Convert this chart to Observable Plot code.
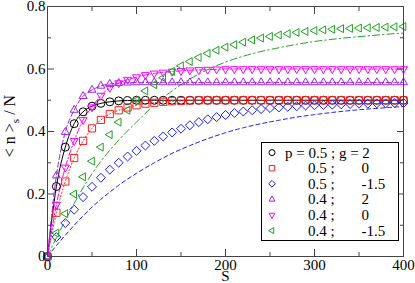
<!DOCTYPE html>
<html><head><meta charset="utf-8">
<script src="https://cdn.jsdelivr.net/npm/d3@7"></script>
<script src="https://cdn.jsdelivr.net/npm/@observablehq/plot@0.6"></script>
<style>body{margin:0;background:#fff} svg{display:block}</style>
</head><body><div id="chart"></div>
<script>
// ---- data ----
const sMarks = [0,10,20,30,40,50,60,70,80,90,100,110,120,130,140,150,160,170,180,190,200,210,220,230,240,250,260,270,280,290,300,310,320,330,340,350,360,370,380,390,400];
const circleV = [0,0.224,0.35,0.425,0.463,0.481,0.49,0.495,0.498,0.499,
  0.5,0.5,0.5,0.5,0.5,0.5,0.5,0.5,0.5,0.5,
  0.5,0.5,0.5,0.5,0.5,0.5,0.5,0.5,0.5,0.5,
  0.5,0.5,0.5,0.5,0.5,0.5,0.5,0.5,0.5,0.5,0.5];
const squareV = [0,0.14,0.24,0.315,0.37,0.41,0.437,0.456,0.468,0.477,
  0.484,0.489,0.492,0.495,0.497,0.498,0.499,0.5,0.5,0.5,
  0.5,0.5,0.5,0.5,0.5,0.5,0.5,0.5,0.5,0.5,
  0.5,0.5,0.5,0.5,0.5,0.5,0.5,0.5,0.5,0.5,0.5];
const diamondV = [0,0.062,0.107,0.15,0.19,0.223,0.252,0.278,0.3,0.32,
  0.338,0.355,0.37,0.384,0.397,0.409,0.42,0.43,0.439,0.446,
  0.453,0.459,0.464,0.468,0.472,0.475,0.477,0.479,0.481,0.483,
  0.484,0.485,0.486,0.487,0.488,0.489,0.489,0.49,0.49,0.491,0.491];
const upV = [0,0.259,0.398,0.469,0.513,0.533,0.546,0.552,0.555,0.556,
  0.557,0.557,0.557,0.557,0.557,0.557,0.557,0.557,0.557,0.557,
  0.557,0.557,0.557,0.557,0.557,0.557,0.557,0.557,0.557,0.557,
  0.557,0.557,0.557,0.557,0.557,0.557,0.557,0.557,0.557,0.557,0.557];
const downV = [0,0.166,0.285,0.37,0.437,0.478,0.515,0.54,0.555,0.566,
  0.574,0.581,0.586,0.589,0.592,0.594,0.596,0.597,0.598,0.599,
  0.6,0.6,0.6,0.6,0.6,0.6,0.6,0.6,0.6,0.6,
  0.6,0.6,0.6,0.6,0.6,0.6,0.6,0.6,0.6,0.6,0.6];
const leftV = [0,0.075,0.137,0.2,0.255,0.305,0.35,0.39,0.43,0.468,
  0.5,0.53,0.55,0.572,0.592,0.61,0.624,0.637,0.65,0.66,
  0.67,0.678,0.686,0.693,0.699,0.704,0.709,0.713,0.717,0.72,
  0.723,0.725,0.727,0.729,0.73,0.731,0.732,0.733,0.734,0.735,0.736];
const sLine = [0,10,20,30,40,50,60,70,80,90,100,120,140,160,180,200,220,240,260,280,300,320,340,360,380,400];
const blueLineV = [0,0.035,0.068,0.1,0.13,0.158,0.183,0.206,0.228,0.248,0.266,0.3,0.33,0.355,0.377,0.396,0.412,0.425,0.436,0.446,0.454,0.461,0.467,0.472,0.476,0.48];
const greenLineV = [0,0.06,0.115,0.17,0.22,0.265,0.305,0.34,0.372,0.402,0.43,0.485,0.53,0.568,0.598,0.622,0.641,0.656,0.668,0.679,0.688,0.695,0.701,0.706,0.711,0.715];
const xMajor = [0,100,200,300,400];
const xMinor = [50,150,250,350];
const yMajor = [0,0.2,0.4,0.6,0.8];
const yMinor = [0.1,0.3,0.5,0.7];
const pLabels = ["0.5","0.5","0.5","0.4","0.4","0.4"];
const gLabels = ["2","0","-1.5","2","0","-1.5"];

// ---- symbols ----
function poly(pts) {
  return {draw(ctx, size) {
    const r = Math.sqrt(size / Math.PI);
    ctx.moveTo(pts[0][0]*r, pts[0][1]*r);
    for (let k = 1; k < pts.length; k++) ctx.lineTo(pts[k][0]*r, pts[k][1]*r);
    ctx.closePath();
  }};
}
const R = 1.15, c = 0.866;
const symCircle = d3.symbolCircle;
const symSquare = poly([[-0.9,-0.9],[0.9,-0.9],[0.9,0.9],[-0.9,0.9]]);
const symDiamond = poly([[0,-1.12],[1.12,0],[0,1.12],[-1.12,0]]);
const symUp = poly([[0,-R],[c*R,R/2],[-c*R,R/2]]);
const symDown = poly([[0,R],[c*R,-R/2],[-c*R,-R/2]]);
const symLeft = poly([[-R,0],[R/2,-c*R],[R/2,c*R]]);

const series = [
  {v: circleV, sym: symCircle, color: "#000000", lineS: sMarks, lineV: circleV, dash: null},
  {v: squareV, sym: symSquare, color: "#ff2020", lineS: sMarks, lineV: squareV, dash: "1.2,2.2"},
  {v: diamondV, sym: symDiamond, color: "#1a1aff", lineS: sLine, lineV: blueLineV, dash: "4,3"},
  {v: upV, sym: symUp, color: "#a020f0", lineS: sMarks, lineV: upV, dash: "5,2.5"},
  {v: downV, sym: symDown, color: "#ff00ff", lineS: sMarks, lineV: downV, dash: "6,2,1.5,2"},
  {v: leftV, sym: symLeft, color: "#20a020", lineS: sLine, lineV: greenLineV, dash: "7,3,1.5,3"}
];

const marks = [];
for (const se of series) {
  const rows = se.lineS.map((s, i) => ({s, v: se.lineV[i]}));
  marks.push(Plot.line(rows, {x: "s", y: "v", stroke: se.color, strokeWidth: 1, strokeDasharray: se.dash, curve: "monotone-x"}));
}
for (const se of series) {
  const rows = sMarks.map((s, i) => ({s, v: se.v[i]}));
  marks.push(Plot.dot(rows, {x: "s", y: "v", symbol: se.sym, r: 4, stroke: se.color, fill: "none", strokeWidth: 1}));
}
const axc = "#444";
marks.push(
  Plot.axisX({ticks: xMajor, anchor: "bottom", tickSize: -7, fill: "none", stroke: axc, label: null}),
  Plot.axisX({ticks: xMinor, anchor: "bottom", tickSize: -4, fill: "none", stroke: axc, label: null}),
  Plot.axisX({ticks: xMajor, anchor: "top", tickSize: -7, fill: "none", stroke: axc, label: null}),
  Plot.axisX({ticks: xMinor, anchor: "top", tickSize: -4, fill: "none", stroke: axc, label: null}),
  Plot.axisY({ticks: yMajor, anchor: "left", tickSize: -7, fill: "none", stroke: axc, label: null}),
  Plot.axisY({ticks: yMinor, anchor: "left", tickSize: -4, fill: "none", stroke: axc, label: null}),
  Plot.axisY({ticks: yMajor, anchor: "right", tickSize: -7, fill: "none", stroke: axc, label: null}),
  Plot.axisY({ticks: yMinor, anchor: "right", tickSize: -4, fill: "none", stroke: axc, label: null}),
  Plot.axisX({ticks: xMajor, anchor: "bottom", tickSize: 0, tickPadding: 3, label: null, tickFormat: d => String(d), fill: "#000"}),
  Plot.axisY({ticks: yMajor, anchor: "left", tickSize: 0, tickPadding: 2, label: null, tickFormat: d => d === 0 ? "0" : d.toFixed(1), fill: "#000"}),
  Plot.frame({stroke: axc, strokeWidth: 1}),
  Plot.text(["S"], {text: d => d, frameAnchor: "bottom", lineAnchor: "middle", dy: 19.5, fontSize: 15, fill: "#000"})
);

const chart = Plot.plot({
  width: 415, height: 283,
  marginLeft: 47, marginRight: 12, marginTop: 6, marginBottom: 27,
  x: {domain: [0, 400]},
  y: {domain: [0, 0.8]},
  style: {fontFamily: "'Liberation Serif', 'Times New Roman', serif", fontSize: "15px", background: "#fff", color: "#000"},
  marks
});
document.getElementById("chart").appendChild(chart);

// ---- y label with subscript ----
const svg = d3.select(chart);
const yl = svg.append("text")
  .attr("transform", "translate(15,126) rotate(-90)")
  .attr("text-anchor", "middle")
  .attr("font-family", "'Liberation Serif', serif")
  .attr("font-size", 16).attr("fill", "#000");
yl.append("tspan").text("< n >");
yl.append("tspan").attr("font-size", 11).attr("dy", 4).text("s");
yl.append("tspan").attr("dy", -4).text(" / N");

// ---- legend ----
const lg = svg.append("g").attr("font-family", "'Liberation Serif', serif").attr("font-size", 15)
  .attr("fill", "#000").attr("text-anchor", "start");
lg.append("rect").attr("x", 261.5).attr("y", 142.5).attr("width", 137).attr("height", 98)
  .attr("fill", "#fff").attr("stroke", "#000").attr("stroke-width", 1);
series.forEach((se, i) => {
  const cy = 152.6 + i * 15.6;
  lg.append("path").attr("transform", `translate(272,${cy})`)
    .attr("d", d3.symbol(se.sym, Math.PI * 3 * 3)())
    .attr("fill", "none").attr("stroke", se.color).attr("stroke-width", 1);
  if (i === 0) {
    lg.append("text").attr("x", 285).attr("y", cy + 5).text(`p = ${pLabels[i]} ; g = ${gLabels[i]}`);
  } else {
    lg.append("text").attr("x", 308).attr("y", cy + 5).text(`${pLabels[i]} ;`);
    lg.append("text").attr("x", 361.5).attr("y", cy + 5).text(gLabels[i]);
  }
});
</script></body></html>
